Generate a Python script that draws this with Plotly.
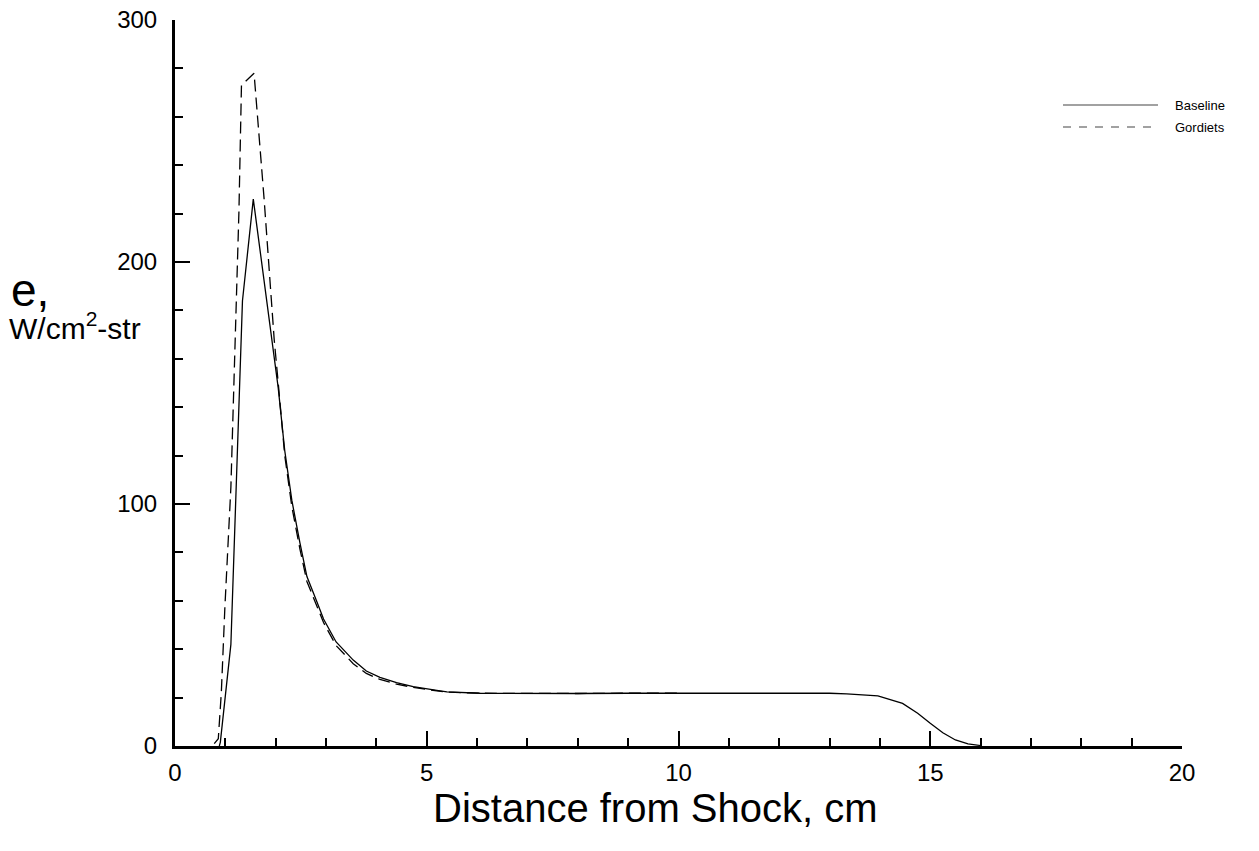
import plotly.graph_objects as go

# Baseline (solid)
base_x = [0.88, 0.90, 1.11, 1.34, 1.555, 1.95, 2.05, 2.18, 2.32, 2.48, 2.62, 2.81, 2.95,
          3.2, 3.54, 3.8, 4.07, 4.4, 4.73, 5.2, 5.4, 6.06, 7, 8, 9, 10, 11, 12, 13,
          13.34, 13.96, 14.45, 14.75, 15.0, 15.25, 15.5, 15.75, 16.0]
base_y = [0, 1.5, 42, 184, 226, 165, 148, 122, 101.6, 84, 70, 60, 52.5,
          43, 35.5, 31, 28.4, 26.2, 24.5, 23, 22.4, 21.8, 21.7, 21.7, 21.8, 21.8, 21.9, 21.9, 21.8,
          21.5, 20.7, 17.6, 13.5, 9.4, 5.5, 2.5, 0.9, 0.2]

# Gordiets (dashed)
gord_x = [0.78, 0.86, 0.92, 0.99, 1.11, 1.19, 1.27, 1.32, 1.57, 1.77, 1.97, 2.05, 2.18,
          2.32, 2.48, 2.62, 2.81, 2.95, 3.2, 3.54, 3.8, 4.07, 4.4, 4.73, 5.2, 5.4, 6.06,
          7, 8, 9, 10]
gord_y = [1, 3, 22, 57, 107, 168, 221, 273, 278, 226, 168, 150, 120,
          99, 81.5, 68, 58, 51, 41.5, 34, 30, 27.5, 25.6, 24.2, 22.8, 22.3, 21.8,
          21.7, 21.7, 21.8, 21.8]

FONT = "Liberation Sans, Arial, sans-serif"

fig = go.Figure()
fig.add_trace(go.Scatter(x=base_x, y=base_y, mode="lines", name="Baseline",
                         line=dict(color="black", width=1.3)))
fig.add_trace(go.Scatter(x=gord_x, y=gord_y, mode="lines", name="Gordiets",
                         line=dict(color="black", width=1.3, dash="12px,6px")))

axis_common = dict(
    showgrid=False, zeroline=False, showline=True, linecolor="black", linewidth=3,
    ticks="inside", ticklen=15, tickwidth=1.5, tickcolor="black",
    tickfont=dict(family=FONT, size=24, color="black"), automargin=False,
)
fig.update_xaxes(range=[0, 20], tickvals=[0, 5, 10, 15, 20],
                 minor=dict(dtick=1, ticks="inside", ticklen=8, tickwidth=1.5, tickcolor="black"),
                 ticklabelstandoff=3, **axis_common)
fig.update_yaxes(range=[0, 300], tickvals=[0, 100, 200, 300],
                 minor=dict(dtick=20, ticks="inside", ticklen=8, tickwidth=1.5, tickcolor="black"),
                 ticklabelstandoff=10, **axis_common)

# manual legend
leg = [("Baseline", 105, "solid"), ("Gordiets", 127, "8px,8px")]
shapes = []
annots = []
for name, py, dash in leg:
    shapes.append(dict(type="line", xref="paper", yref="paper",
                       x0=(1063 - 175) / 1007, x1=(1158 - 175) / 1007,
                       y0=(746 - py) / 726, y1=(746 - py) / 726,
                       line=dict(color="#444444", width=1.2, dash=dash)))
    annots.append(dict(xref="paper", yref="paper", x=(1173 - 175) / 1007, y=(746 - py) / 726,
                       text=name, showarrow=False, xanchor="left", yanchor="middle",
                       font=dict(family=FONT, size=13, color="black")))

# axis titles
annots.append(dict(xref="paper", yref="paper", x=(9 - 175) / 1007, y=(746 - 290) / 726,
                   text="e,", showarrow=False, xanchor="left", yanchor="middle",
                   font=dict(family=FONT, size=46, color="black")))
annots.append(dict(xref="paper", yref="paper", x=(7 - 175) / 1007, y=(746 - 326) / 726,
                   text="W/cm<sup>2</sup>-str", showarrow=False, xanchor="left", yanchor="middle",
                   font=dict(family=FONT, size=30, color="black")))
annots.append(dict(xref="paper", yref="paper", x=(655 - 175) / 1007, y=(746 - 808) / 726,
                   text="Distance from Shock, cm", showarrow=False, xanchor="center", yanchor="middle",
                   font=dict(family=FONT, size=40, color="black")))

fig.update_layout(
    width=1259, height=851,
    margin=dict(l=175, r=77, t=20, b=105, autoexpand=False),
    paper_bgcolor="white", plot_bgcolor="white",
    showlegend=False,
    shapes=shapes, annotations=annots,
)
fig.write_html("out.html")
